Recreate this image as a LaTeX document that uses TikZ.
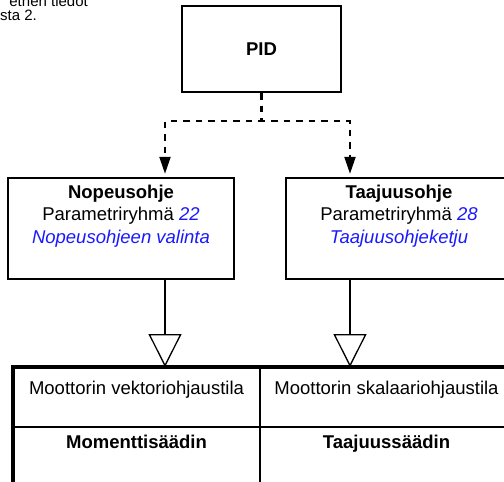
\documentclass[tikz,border=0pt]{standalone}
\usepackage{fontspec}
\setmainfont{Liberation Sans}
\usepackage{xcolor}
\usetikzlibrary{positioning, arrows.meta, calc}

\definecolor{parblue}{RGB}{25,25,255}

\begin{document}
\begin{tikzpicture}[
    x=1pt, y=-1pt,
    every node/.style={font=\fontsize{18.5}{22.5}\selectfont, inner sep=0pt},
    ctrlbox/.style={draw, line width=2.4pt, minimum width=#1, minimum height=101pt},
    boxtext/.style={align=center, anchor=north},
    cell/.style={anchor=base},
    note/.style={font=\fontsize{15}{16}\selectfont, anchor=base east},
    dasharrow/.style={-{Triangle[length=17pt, width=11pt]}, line width=2.2pt, dash pattern=on 6.5pt off 6pt},
    refarrow/.style={-{Triangle[open, length=33pt, width=33pt, line width=1.3pt]}, line width=2.2pt},
  ]

  \useasboundingbox (0,0) rectangle (504,482);
  \clip (0,0) rectangle (504,482);

  % ---- Running text ----
  \node[note] (note1) at (88,6.5) {ethen tiedot};
  \node[note] (note2) at (37,20.5) {sta 2.};

  % ---- PID ----
  \node[draw, line width=2.4pt, minimum width=159pt, minimum height=86pt, font=\fontsize{18.5}{22.5}\selectfont\bfseries] (pid) at (261.5,49) {PID};

  % ---- Reference boxes ----
  \node[ctrlbox=226pt] (nopbox) at (121,228.5) {};
  \node[boxtext] (noptext) at ([yshift=-8pt]nopbox.north) {\textbf{Nopeusohje}\\Parametriryhmä {\color{parblue}\itshape 22}\\{\color{parblue}\itshape Nopeusohjeen valinta}};

  \node[ctrlbox=226pt] (taabox) at (399,228.5) {};
  \node[boxtext] (taatext) at ([yshift=-8pt]taabox.north) {\textbf{Taajuusohje}\\Parametriryhmä {\color{parblue}\itshape 28}\\{\color{parblue}\itshape Taajuusohjeketju}};

  % ---- Control mode table ----
  \coordinate (tabletop) at (13,367);
  \draw[line width=3.3pt] (13,490) -- (tabletop) -- (520,367);
  \draw[line width=2pt] (260,367) -- (260,490);
  \draw[line width=2pt] (13,427) -- (520,427);

  \node[cell] (vecmode) at (136.5,394.6) {Moottorin vektoriohjaustila};
  \node[cell] (scamode) at (386.5,394.6) {Moottorin skalaariohjaustila};
  \node[cell, font=\fontsize{18.5}{22.5}\selectfont\bfseries] (torqctrl) at (136.5,448.6) {Momenttisäädin};
  \node[cell, font=\fontsize{18.5}{22.5}\selectfont\bfseries] (freqctrl) at (386.5,448.6) {Taajuussäädin};

  % ---- PID to references ----
  \coordinate (split) at ([yshift=-28pt]pid.south);
  \draw[dasharrow] (pid.south) -- (split) -| ([xshift=44pt, yshift=3pt]nopbox.north);
  \draw[dasharrow] (pid.south) -- (split) -| ([xshift=-49pt, yshift=3pt]taabox.north);

  % ---- References to control modes ----
  \draw[refarrow] ([xshift=44pt]nopbox.south) -- ([xshift=44pt]nopbox.south |- tabletop);
  \draw[refarrow] ([xshift=-49pt]taabox.south) -- ([xshift=-49pt]taabox.south |- tabletop);

\end{tikzpicture}
\end{document}
